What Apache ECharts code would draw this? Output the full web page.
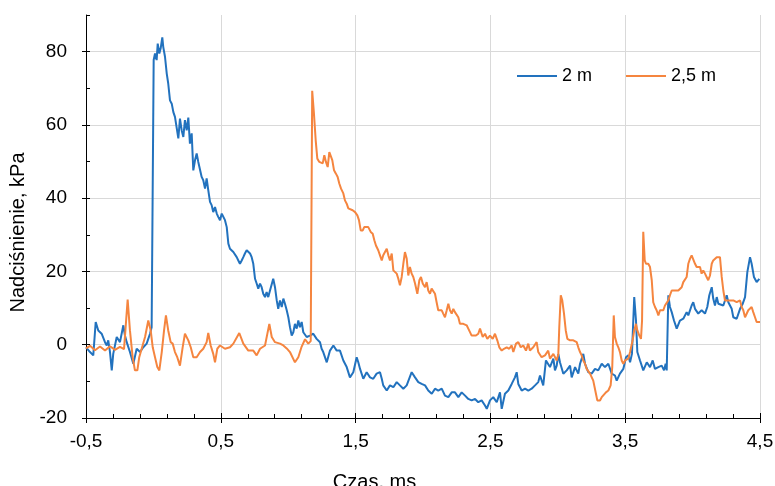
<!DOCTYPE html>
<html><head><meta charset="utf-8">
<script src="https://cdn.jsdelivr.net/npm/echarts@6/dist/echarts.min.js"></script>
<style>html,body{margin:0;padding:0;background:#fff}#c{width:775px;height:486px}</style>
</head><body><div id="c"></div>
<script>
const seriesNames = ['2 m', '2,5 m'];
const time2m = [-0.5,-0.47,-0.446,-0.428,-0.409,-0.384,-0.359,-0.346,-0.335,-0.322,
-0.309,-0.298,-0.272,-0.248,-0.223,-0.211,-0.198,-0.174,-0.149,-0.124,
-0.099,-0.075,-0.05,-0.038,-0.025,-0.013,-0.005,0.002,0.012,0.024,
0.032,0.044,0.054,0.066,0.073,0.086,0.099,0.11,0.123,0.136,
0.148,0.16,0.173,0.185,0.197,0.21,0.222,0.234,0.247,0.259,
0.271,0.284,0.296,0.309,0.321,0.333,0.346,0.358,0.37,0.383,
0.395,0.407,0.42,0.432,0.444,0.457,0.47,0.481,0.494,0.507,
0.518,0.531,0.544,0.556,0.568,0.581,0.593,0.605,0.618,0.63,
0.642,0.655,0.667,0.679,0.692,0.704,0.717,0.729,0.741,0.754,
0.766,0.778,0.791,0.803,0.815,0.828,0.84,0.852,0.865,0.878,
0.889,0.902,0.915,0.926,0.939,0.952,0.964,0.976,0.989,1.001,
1.013,1.026,1.038,1.05,1.063,1.075,1.087,1.1,1.112,1.125,
1.137,1.149,1.162,1.174,1.186,1.199,1.211,1.223,1.236,1.248,
1.26,1.286,1.31,1.335,1.36,1.384,1.409,1.434,1.458,1.483,
1.508,1.52,1.533,1.557,1.582,1.607,1.631,1.656,1.681,1.694,
1.705,1.731,1.755,1.78,1.805,1.829,1.854,1.879,1.916,1.941,
1.965,1.99,2.015,2.039,2.065,2.089,2.113,2.139,2.163,2.188,
2.213,2.237,2.262,2.287,2.312,2.336,2.361,2.386,2.41,2.435,
2.46,2.473,2.497,2.521,2.547,2.571,2.584,2.608,2.633,2.658,
2.682,2.695,2.707,2.732,2.757,2.781,2.806,2.831,2.855,2.868,
2.892,2.912,2.942,2.967,2.979,2.992,3.004,3.016,3.041,3.066,
3.091,3.103,3.128,3.152,3.165,3.189,3.202,3.226,3.251,3.276,
3.3,3.326,3.35,3.375,3.4,3.424,3.437,3.461,3.486,3.506,
3.523,3.536,3.55,3.567,3.58,3.59,3.61,3.634,3.66,3.684,
3.704,3.721,3.746,3.771,3.788,3.8,3.808,3.82,3.832,3.845,
3.862,3.882,3.906,3.931,3.956,3.968,3.993,4.005,4.018,4.042,
4.067,4.092,4.109,4.124,4.142,4.153,4.166,4.179,4.191,4.203,
4.228,4.253,4.265,4.29,4.302,4.327,4.352,4.372,4.389,4.406,
4.426,4.438,4.455,4.475,4.495];
const pressure2m = [-0.7,-2,-2.9,6.2,3.9,3,0.7,-0.2,1.2,-2,
-7,-2.5,2.1,0.7,5.3,2.5,0.7,-2,-5.2,-1.1,
-2,-0.7,0.3,1.6,3,4.8,4.5,77.7,79.5,77.7,
82.2,79.5,80.9,83.9,81.3,78.6,74,71.3,66.7,65.8,
63.5,62.2,62.6,56.3,61.7,58.5,56.7,61.3,58.5,62,
54.9,57.7,47.6,50.4,52.2,49.9,50.4,45.8,44.9,42.6,
45.4,42.2,39,38.1,36.2,37.6,35.8,34.9,34,35.8,
35.3,34,32.1,27.6,26.2,26.7,25.3,25.8,23.9,23,
22.1,23,23.9,24.9,25.8,26.2,24.9,23.9,22.1,18,
16.7,15.3,16.7,15.7,13.9,13,14.4,13,14.8,15.3,
18,15.7,12.1,9.8,12.1,10.3,12.6,11.2,9.4,7.5,
4.8,2.5,3.4,5.7,4.4,6.6,4.8,6.2,3.4,3,
2.1,1.6,2.5,2.1,3,2.5,1.6,1.2,0.7,-1.1,
-2,-4.8,-1.6,-0.2,-1.6,-1.6,-4.3,-6.1,-8.9,-7.5,
-3.4,-4.8,-6.6,-9.3,-7.5,-8.9,-9.3,-7.9,-7.5,-9.3,
-11.1,-12.5,-11.1,-11.6,-10.2,-11.1,-12,-11.1,-7.5,-8.9,
-10.2,-10.7,-11.1,-12.5,-13.4,-12,-12.5,-12,-13.9,-14.3,
-13,-13,-14.3,-13,-13.9,-14.8,-15.2,-14.8,-15.7,-15.2,
-16.6,-17.5,-15.2,-14.3,-15.7,-13,-17.5,-13.4,-12.5,-10.7,
-8.9,-7.5,-10.7,-12.5,-12,-12.5,-12,-11.1,-10.2,-8.4,
-11.1,-4.3,-6.1,-3.8,-7,-5.7,-2.5,-4.8,-7.9,-7,
-5.7,-8.9,-6.1,-7.9,-5.2,-2.5,-5.2,-7.5,-7.9,-6.6,
-7,-5.2,-6.1,-5.2,-7.9,-8.4,-9.8,-7.9,-6.6,-3.4,
-2.9,-4.8,-2.5,13,6.6,-2,-4.3,-7,-4.8,-6.1,
-4.3,-6.6,-6.1,-5.7,-7,-5.2,-7,13.5,10.3,8.9,
6.6,4.4,6.6,7.1,8.9,8,10.7,11.6,9.8,8.5,
9.4,8.5,10.3,13.5,15.7,12.6,10.7,13,11.2,11.6,
10.7,13.5,11.6,9.8,7.5,7.1,9.8,11.2,13,19.8,
23.9,22.1,18.5,17.1,18];
const time25m = [-0.5,-0.47,-0.433,-0.396,-0.359,-0.322,-0.285,-0.248,-0.218,-0.191,
-0.174,-0.154,-0.137,-0.119,-0.105,-0.087,-0.062,-0.038,-0.02,-0.005,
0.012,0.029,0.044,0.062,0.079,0.093,0.11,0.128,0.143,0.16,
0.177,0.197,0.217,0.234,0.247,0.259,0.277,0.296,0.321,0.346,
0.37,0.395,0.407,0.425,0.444,0.457,0.474,0.494,0.531,0.568,
0.593,0.605,0.637,0.667,0.704,0.741,0.766,0.791,0.828,0.86,
0.878,0.902,0.939,0.964,0.989,1.013,1.05,1.075,1.1,1.125,
1.149,1.162,1.167,1.178,1.191,1.204,1.216,1.231,1.243,1.256,
1.268,1.28,1.293,1.305,1.315,1.327,1.34,1.354,1.367,1.379,
1.392,1.409,1.421,1.434,1.446,1.458,1.478,1.496,1.513,1.525,
1.538,1.553,1.564,1.577,1.594,1.612,1.627,1.639,1.651,1.668,
1.681,1.694,1.705,1.718,1.731,1.743,1.755,1.768,1.78,1.792,
1.805,1.817,1.829,1.842,1.854,1.866,1.879,1.891,1.903,1.916,
1.928,1.941,1.958,1.973,1.985,1.998,2.015,2.027,2.039,2.052,
2.064,2.076,2.089,2.101,2.113,2.126,2.139,2.15,2.163,2.176,
2.188,2.2,2.213,2.225,2.237,2.25,2.262,2.274,2.299,2.324,
2.336,2.349,2.361,2.373,2.393,2.41,2.423,2.443,2.46,2.477,
2.497,2.517,2.534,2.551,2.566,2.584,2.601,2.621,2.64,2.658,
2.67,2.69,2.707,2.725,2.744,2.764,2.781,2.793,2.818,2.843,
2.855,2.88,2.905,2.929,2.942,2.967,2.992,3.004,3.011,3.022,
3.033,3.046,3.059,3.071,3.091,3.115,3.14,3.152,3.165,3.177,
3.189,3.202,3.214,3.226,3.239,3.263,3.283,3.293,3.313,3.326,
3.337,3.357,3.375,3.392,3.404,3.415,3.424,3.437,3.449,3.461,
3.474,3.486,3.499,3.511,3.523,3.536,3.555,3.567,3.58,3.59,
3.605,3.617,3.625,3.634,3.645,3.654,3.671,3.684,3.697,3.708,
3.721,3.733,3.746,3.758,3.771,3.783,3.795,3.808,3.82,3.832,
3.845,3.857,3.869,3.882,3.894,3.906,3.919,3.931,3.944,3.956,
3.968,3.981,3.993,4.005,4.018,4.03,4.042,4.055,4.067,4.079,
4.092,4.104,4.116,4.129,4.142,4.153,4.166,4.179,4.191,4.203,
4.216,4.228,4.24,4.253,4.265,4.277,4.302,4.327,4.352,4.364,
4.376,4.389,4.401,4.413,4.426,4.438,4.45,4.463,4.475,4.487,
4.5];
const pressure25m = [-1,-0.3,-1.5,-0.5,-1.6,-0.4,-1.4,-0.6,-1.2,12.3,
3.9,-3.4,-7,-7,-3.4,-1.1,2.1,6.6,3.9,-0.7,
-3.4,-6.1,-7,-2,3.9,8,3.9,0.7,0.3,-2,
-3.4,-5.7,-0.7,3,2.5,1.2,-0.7,-3.4,-3.4,-2,
-1.1,0.7,3.2,-0.2,-2.5,-4.8,-1.1,-0.2,-1.1,-0.7,
0.3,0.7,3.2,0.3,-1.6,-1.6,-2.9,-1.1,-0.2,5.7,
2.1,0.7,0.3,-0.2,-1,-2,-4.8,-3.4,-0.5,1.5,
0.3,0.7,1.0,69.3,63.1,55.8,50.8,49.9,50.4,49.5,
51.7,49.9,48.5,52.6,53.1,50.4,47.6,46.7,45.8,44,
42.6,41.3,39.4,38.5,37.2,36.7,36.7,36.2,35.3,34,
31.2,31.2,32.1,32.1,32.1,30.8,30.3,28.5,27.1,25.8,
24.4,23,24.4,23.9,26.2,24.4,23,24.9,20.3,20.8,
19.4,18,16.2,18.5,22.1,25.3,23.5,18.9,21.2,19.4,
18.5,16.7,13.9,17.6,18.5,16.7,15.7,17.1,14.8,13.9,
15.3,15.7,13.9,11.6,9.4,8.9,9.4,8.5,7.5,9.4,
11.2,9.4,8.5,9.8,8.9,9.4,7.5,5.7,5.7,5.3,
4.4,3.9,2.5,2.1,2.5,3,4.4,2.1,3,1.6,
2.5,1.6,3,1.2,-0.7,-1.6,-1.1,-0.7,-1.1,-0.2,
-2,0.3,0.7,-0.7,-0.2,-1.6,0.3,-1.6,-0.7,0.7,
-2,-3.4,-2.9,-1.6,-3.8,-2.5,-4.3,-2.5,4.8,13.5,
12.1,8.5,3.9,1.6,1.2,1.2,0.7,-0.7,-2,-2.9,
-4.3,-5.2,-6.6,-6.1,-7.9,-9.8,-13.4,-15.2,-15.2,-14.3,
-13.9,-13,-12.5,-11.1,-6.1,8,2.1,0.3,-0.7,-2,
-4.3,-5.2,-4.3,-4.8,-3.8,-2,1.2,3.9,5.7,3.9,
2.5,1.6,6.6,30.8,23,22.1,22.1,21.2,17.6,11.6,
10.3,9.4,8,9.4,9.8,9.4,10.7,10.3,12.1,13.5,
14.8,14.4,14.8,14.4,14.8,15.3,15.7,17.1,16.7,18.5,
22.1,23.5,24.4,23.9,22.1,21.2,20.8,21.2,19.4,20.3,
19.4,18.5,17.6,18.9,22.1,23,22.6,23.9,23.5,23.9,
18.5,14.8,12.1,12.6,12.1,12.6,12.1,11.6,12.1,10.3,
9.4,7.5,8,9.4,9.8,10.3,8.9,7.5,6.2,6.6,
6.2];
const xTickLabels = ['-0,5', '0,5', '1,5', '2,5', '3,5', '4,5'];
const xTickValues = [-0.5, 0.5, 1.5, 2.5, 3.5, 4.5];

const FONT = "'Liberation Sans', Arial, sans-serif";
const colors = ['#2272be', '#f5853f'];
const xLabel = v => {
  const i = xTickValues.findIndex(t => Math.abs(t - v) < 1e-6);
  return i >= 0 ? xTickLabels[i] : '';
};

const chart = echarts.init(document.getElementById('c'), null, {renderer: 'canvas'});
const baseX = {type: 'value', min: -0.5, max: 4.5, interval: 1, position: 'bottom', gridIndex: 0};
const baseY = {type: 'value', min: -20, max: 90, interval: 20, position: 'left', gridIndex: 0};
chart.setOption({
  animation: false,
  backgroundColor: '#fff',
  textStyle: {fontFamily: FONT},
  grid: {left: 86, right: 15, top: 15, bottom: 68, containLabel: false, outerBoundsMode: 'none'},
  legend: {
    data: seriesNames, left: 517, top: 67, padding: 0,
    icon: 'rect', itemWidth: 40, itemHeight: 2, itemGap: 34,
    textStyle: {fontSize: 18, color: '#000', fontFamily: FONT}
  },
  xAxis: [
    Object.assign({}, baseX, {
      axisLine: {show: true, onZero: false, lineStyle: {color: '#000', width: 1}},
      axisTick: {show: true, inside: false, length: 5, lineStyle: {color: '#000', width: 1}},
      minorTick: {show: false},
      axisLabel: {margin: 14, fontSize: 19, color: '#000', fontFamily: FONT, formatter: xLabel},
      splitLine: {show: true, showMinLine: false, lineStyle: {color: '#d9d9d9', width: 1}},
      name: 'Czas, ms', nameLocation: 'middle', nameGap: 54,
      nameTextStyle: {fontSize: 20, color: '#000', fontFamily: FONT, padding: [0, 97, 0, 0]}
    }),
    Object.assign({}, baseX, {
      axisLine: {show: false, onZero: false},
      axisTick: {show: true, inside: true, length: 5, lineStyle: {color: '#000', width: 1}},
      minorTick: {show: true, splitNumber: 5, length: 4, lineStyle: {color: '#000', width: 1}},
      axisLabel: {show: false},
      splitLine: {show: false}
    })
  ],
  yAxis: [
    Object.assign({}, baseY, {
      axisLine: {show: true, onZero: false, lineStyle: {color: '#000', width: 1}},
      axisTick: {show: true, inside: false, length: 4, lineStyle: {color: '#000', width: 1}},
      minorTick: {show: false},
      axisLabel: {margin: 19, fontSize: 19, color: '#000', fontFamily: FONT, showMaxLabel: false},
      splitLine: {show: true, showMaxLine: false, showMinLine: false, lineStyle: {color: '#d9d9d9', width: 1}},
      name: 'Nadciśnienie, kPa', nameLocation: 'middle', nameGap: 56,
      nameTextStyle: {fontSize: 20, color: '#000', fontFamily: FONT, padding: [0, 32, 0, 0]}
    }),
    Object.assign({}, baseY, {
      axisLine: {show: false, onZero: false},
      axisTick: {show: true, inside: true, length: 4, lineStyle: {color: '#000', width: 1}},
      minorTick: {show: true, splitNumber: 2, length: 4, lineStyle: {color: '#000', width: 1}},
      axisLabel: {show: false},
      splitLine: {show: false}
    })
  ],
  series: [
    {
      name: seriesNames[0], type: 'line', xAxisIndex: 0, yAxisIndex: 0,
      data: time2m.map((t, i) => [t, pressure2m[i]]),
      showSymbol: false, symbol: 'none',
      lineStyle: {width: 2, color: colors[0]}, itemStyle: {color: colors[0]}
    },
    {
      name: seriesNames[1], type: 'line', xAxisIndex: 0, yAxisIndex: 0,
      data: time25m.map((t, i) => [t, pressure25m[i]]),
      showSymbol: false, symbol: 'none',
      lineStyle: {width: 2, color: colors[1]}, itemStyle: {color: colors[1]}
    }
  ]
});
</script>
</body></html>
